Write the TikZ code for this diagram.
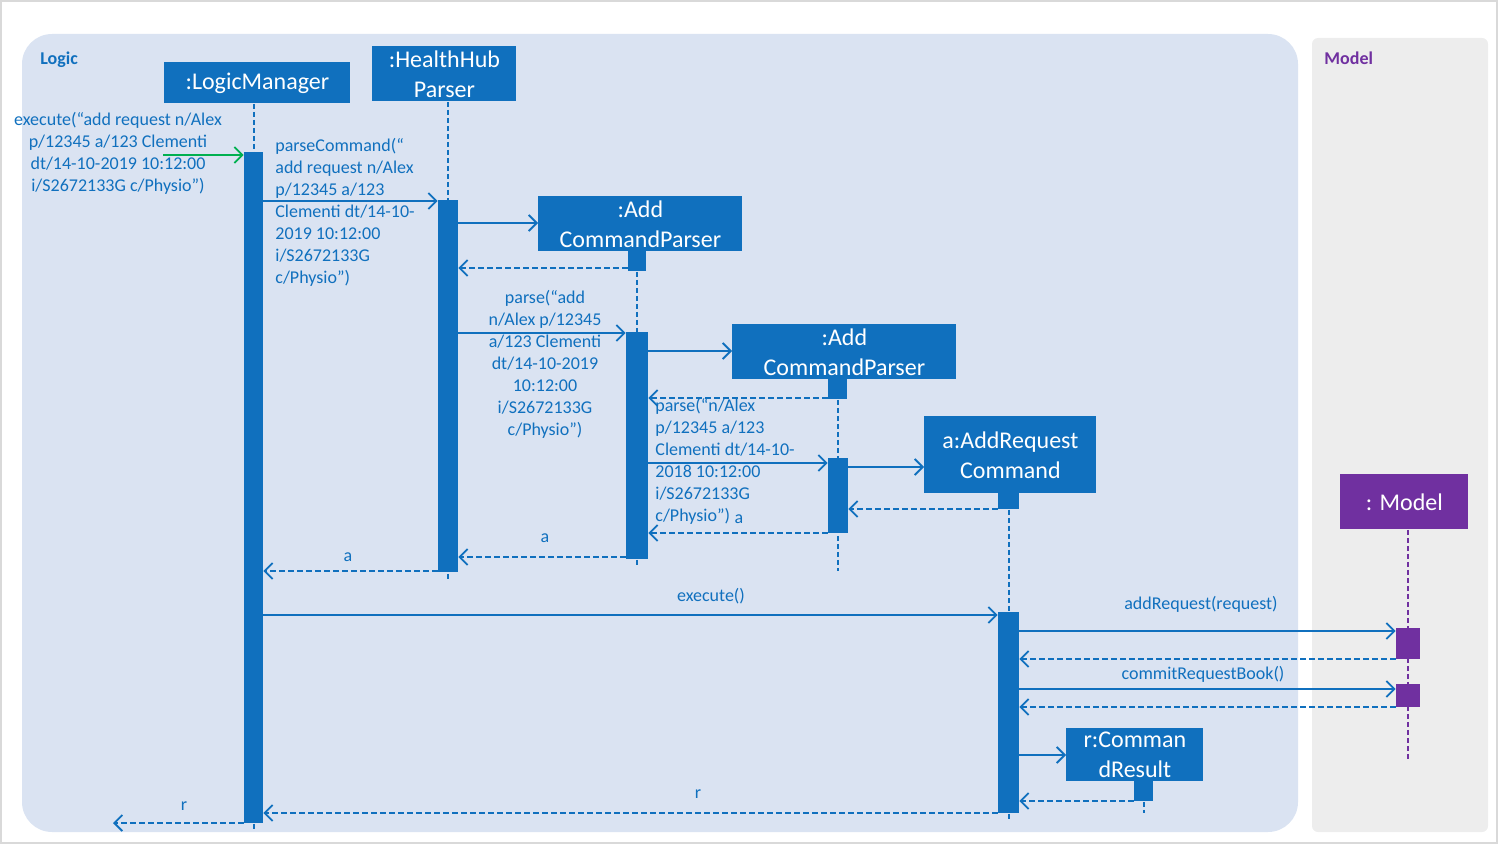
\documentclass[tikz,border=0pt]{standalone}
\usepackage{fontspec}
\setmainfont{Carlito}
\usetikzlibrary{arrows.meta, positioning, calc}
\definecolor{seqblue}{RGB}{16,112,190}
\definecolor{logicbg}{RGB}{218,227,242}
\definecolor{modelbg}{RGB}{237,237,237}
\definecolor{modelpurple}{RGB}{112,48,160}
\definecolor{callgreen}{RGB}{0,176,80}
\pgfdeclarelayer{background}
\pgfsetlayers{background,main}

\begin{document}
\begin{tikzpicture}[
  x=0.5pt, y=-0.5pt,
  obj/.style={rectangle, fill=seqblue, text=white, font=\fontsize{12}{15}\selectfont, align=center, inner sep=0pt, anchor=north west},
  act/.style={rectangle, fill=seqblue, inner sep=0pt, anchor=north},
  lifeline/.style={seqblue, line width=1pt, dash pattern=on 2.5pt off 1.5pt},
  msg/.style={seqblue, line width=0.9pt, -{Straight Barb[length=4pt, width=8pt]}},
  ret/.style={msg, dash pattern=on 3pt off 1.5pt},
  lbl/.style={text=seqblue, font=\fontsize{9}{11}\selectfont, inner sep=0pt},
  paneltitle/.style={font=\fontsize{9}{11}\selectfont\bfseries, inner sep=0pt, anchor=west}
]
\useasboundingbox (0,0) rectangle (1498,844);

% Panels
\begin{pgfonlayer}{background}
\draw[black!15, line width=1pt] (1,1) rectangle (1497,843);
\fill[logicbg, rounded corners=15pt] (22,34) rectangle (1298,832);
\fill[modelbg, rounded corners=3pt] (1312,38) rectangle (1488,832);
\end{pgfonlayer}
\node[paneltitle, text=seqblue] (logic_title) at (40,60) {Logic};
\node[paneltitle, text=modelpurple] (model_title) at (1324,58) {Model};

% Objects
\node[obj, minimum width=93pt, minimum height=20.5pt] (lm) at (164,62) {:LogicManager};
\node[obj, minimum width=72pt, minimum height=27.5pt] (hhp) at (372,46) {:HealthHub\\Parser};
\node[obj, minimum width=102pt, minimum height=27.5pt] (acp1) at (538,196) {:Add\\CommandParser};
\node[obj, minimum width=112pt, minimum height=27.5pt] (acp2) at (732,324) {:Add\\CommandParser};
\node[obj, minimum width=86pt, minimum height=38.5pt] (arc) at (924,416) {a:AddRequest\\Command};
\node[obj, fill=modelpurple, minimum width=64pt, minimum height=27.5pt] (model) at (1340,474) {: Model};
\node[obj, minimum width=68.5pt, minimum height=26.5pt] (cr) at (1066,728) {r:Comman\\dResult};

% Activations
\node[act, minimum width=9.5pt, minimum height=335.5pt] (lmact) at (253.5,152) {};
\node[act, minimum width=10pt, minimum height=186pt] (hhpact) at (448,200) {};
\node[act, minimum width=9pt, minimum height=10pt] (acp1sq) at (637,251) {};
\node[act, minimum width=11pt, minimum height=113.5pt] (acp1act) at (637,332) {};
\node[act, minimum width=9.5pt, minimum height=10pt] (acp2sq) at (837.5,379) {};
\node[act, minimum width=10pt, minimum height=37.5pt] (acp2act) at (838,458) {};
\node[act, minimum width=10.5pt, minimum height=8pt] (arcsq) at (1008.5,493) {};
\node[act, minimum width=10.5pt, minimum height=100.5pt] (arcact) at (1008.5,612) {};
\node[act, fill=modelpurple, minimum width=12pt, minimum height=15.5pt] (msq1) at (1408,628) {};
\node[act, fill=modelpurple, minimum width=12pt, minimum height=11.5pt] (msq2) at (1408,684) {};
\node[act, minimum width=9.5pt, minimum height=10pt] (crsq) at (1143.5,781) {};

% Lifelines
\begin{pgfonlayer}{background}
\draw[lifeline] (lm.south -| lmact) -- ++(0,727);
\draw[lifeline] (hhp.south -| hhpact) -- ++(0,479);
\draw[lifeline] (acp1sq.south) -- ++(0,295);
\draw[lifeline] (acp2sq.south) -- ++(0,171);
\draw[lifeline] (arcsq.south) -- ++(0,311);
\draw[lifeline, modelpurple] (model.south -| msq1) -- ++(0,229);
\draw[lifeline] (crsq.south) -- ++(0,11);
\end{pgfonlayer}

% Messages
\coordinate (extin) at (163,155);
\coordinate (extout) at (113,823);
\draw[msg, callgreen] (extin) -- (lmact.west |- extin);
\node[lbl, align=center] (lbl_exec) at (118,153) {execute(“add request n/Alex\\p/12345 a/123 Clementi\\dt/14-10-2019 10:12:00\\i/S2672133G c/Physio”)};

\draw[msg] (lmact.east |- 0,201) -- (hhpact.west |- 0,201);
\node[lbl, align=left, anchor=west] (lbl_parsecmd) at (275,212) {parseCommand(“\\add request n/Alex\\p/12345 a/123\\Clementi dt/14-10-\\2019 10:12:00\\i/S2672133G\\c/Physio”)};

\draw[msg] (hhpact.east |- 0,223) -- (acp1.west |- 0,223);
\draw[ret] (acp1sq.west |- 0,268) -- (hhpact.east |- 0,268);

\draw[msg] (hhpact.east |- 0,333) -- (acp1act.west |- 0,333);
\node[lbl, align=center] (lbl_parse1) at (545,364) {parse(“add\\n/Alex p/12345\\a/123 Clementi\\dt/14-10-2019\\10:12:00\\i/S2672133G\\c/Physio”)};

\draw[msg] (acp1act.east |- 0,351) -- (acp2.west |- 0,351);
\draw[ret] (acp2sq.west |- 0,398) -- (acp1act.east |- 0,398);

\draw[msg] (acp1act.east |- 0,463) -- (acp2act.west |- 0,463);
\node[lbl, align=left, anchor=west] (lbl_parse2) at (655,461) {parse(“n/Alex\\p/12345 a/123\\Clementi dt/14-10-\\2018 10:12:00\\i/S2672133G\\c/Physio”)};

\draw[msg] (acp2act.east |- 0,467) -- (arc.west |- 0,467);
\draw[ret] (arcsq.west |- 0,509) -- (acp2act.east |- 0,509);

\draw[ret] (acp2act.west |- 0,533) -- (acp1act.east |- 0,533);
\node[lbl] (lbl_a1) at (739,519) {a};
\draw[ret] (acp1act.west |- 0,557) -- (hhpact.east |- 0,557);
\node[lbl] (lbl_a2) at (545,538) {a};
\draw[ret] (hhpact.west |- 0,571) -- (lmact.east |- 0,571);
\node[lbl] (lbl_a3) at (348,557) {a};

\draw[msg] (lmact.east |- 0,615) -- (arcact.west |- 0,615);
\node[lbl] (lbl_execute) at (711,596) {execute()};

\draw[msg] (arcact.east |- 0,631) -- (msq1.west |- 0,631);
\node[lbl] (lbl_addreq) at (1201,604) {addRequest(request)};
\draw[ret] (msq1.west |- 0,659) -- (arcact.east |- 0,659);
\draw[msg] (arcact.east |- 0,689) -- (msq2.west |- 0,689);
\node[lbl] (lbl_commit) at (1203,674) {commitRequestBook()};
\draw[ret] (msq2.west |- 0,707) -- (arcact.east |- 0,707);

\draw[msg] (arcact.east |- 0,755) -- (cr.west |- 0,755);
\draw[ret] (crsq.west |- 0,801) -- (arcact.east |- 0,801);

\draw[ret] (arcact.west |- 0,813) -- (lmact.east |- 0,813);
\node[lbl] (lbl_r1) at (698,794) {r};
\draw[ret] (lmact.west |- 0,823) -- (extout);
\node[lbl] (lbl_r2) at (184,806) {r};

\end{tikzpicture}
\end{document}
